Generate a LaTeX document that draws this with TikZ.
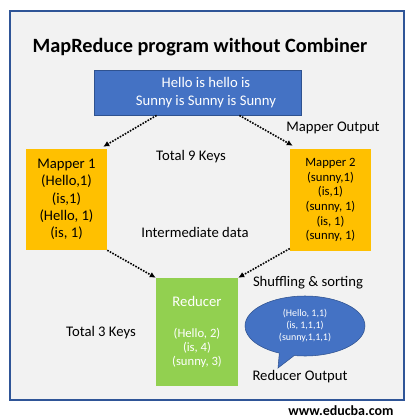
\documentclass[tikz,border=0pt]{standalone}
\usepackage{fontspec}
\setmainfont{Carlito}
\usetikzlibrary{shapes, shapes.callouts, arrows.meta, positioning, calc}
\definecolor{frameblue}{RGB}{47, 85, 151}
\definecolor{boxblue}{RGB}{68, 114, 196}
\definecolor{edgeblue}{RGB}{47, 82, 143}
\definecolor{mapgold}{RGB}{255, 192, 0}
\definecolor{redgreen}{RGB}{146, 208, 80}
\definecolor{panelgray}{RGB}{242, 242, 242}

\begin{document}
\begin{tikzpicture}[
  x=0.75pt, y=-0.75pt,
  inputbox/.style={draw=edgeblue, fill=boxblue, minimum width=155pt, minimum height=34pt, inner sep=0pt},
  mapbox/.style={fill=mapgold, minimum width=60.75pt, align=center, inner sep=0pt},
  redbox/.style={fill=redgreen, text=white, minimum width=61.5pt, minimum height=81pt, align=center, inner sep=0pt, font=\fontsize{9.5}{10.5}\selectfont},
  note/.style={font=\fontsize{11}{12}\selectfont, inner sep=0pt},
  flow/.style={densely dotted, line width=1.2pt, -{Latex[length=4.5pt, width=4.5pt]}}
]
  \useasboundingbox (0, 0) rectangle (415, 419);
  \draw[frameblue, fill=panelgray, line width=0.9pt] (10, 11) rectangle (404, 400);

  \node[font=\bfseries\fontsize{15.2}{17}\selectfont] (title) at (200, 47) {MapReduce program without Combiner};

  \node[inputbox] (input) at (198, 92.5) {};
  \node[text=white, align=center, inner sep=0pt, font=\fontsize{11}{13.5}\selectfont] (inputtext) at (206, 92.5) {Hello is hello is\\Sunny is Sunny is Sunny};

  \node[mapbox, minimum height=75.75pt, font=\fontsize{11}{13}\selectfont] (map1) at (66.5, 199.5) {Mapper 1\\(Hello,1)\\(is,1)\\(Hello, 1)\\(is, 1)};
  \node[mapbox, minimum height=76.5pt, font=\fontsize{9.5}{11}\selectfont] (map2) at (330.5, 200) {Mapper 2\\(sunny,1)\\(is,1)\\(sunny, 1)\\(is, 1)\\(sunny, 1)};

  \node[redbox] (reducer) at (197, 332) {\fontsize{11}{13}\selectfont Reducer\\[13pt](Hello, 2)\\(is, 4)\\(sunny, 3)};

  \node[ellipse callout, draw=edgeblue, fill=boxblue, text=white, minimum width=90pt, minimum height=45pt, inner sep=0pt, align=center,
        font=\fontsize{7.5}{9}\selectfont, callout absolute pointer={(278, 368)}] (shuffle) at (305, 326) {(Hello, 1,1)\\(is, 1,1,1)\\(sunny,1,1,1)};

  \node[note] (mapout) at (333, 128) {Mapper Output};
  \node[note] (keys9) at (191, 157) {Total 9 Keys};
  \node[note] (inter) at (195, 232) {Intermediate data};
  \node[note] (sorting) at (308, 283) {Shuffling \& sorting};
  \node[note] (keys3) at (101, 333) {Total 3 Keys};
  \node[note] (redout) at (300, 377) {Reducer Output};
  \node[font=\bfseries\fontsize{10.5}{12}\selectfont, inner sep=0pt] (site) at (341, 411) {www.educba.com};

  % dotted flow between stages
  \draw[flow] ($(input.south west)!0.3!(input.south east)$) -- ([shift={(-4,-2)}]map1.north east);
  \draw[flow] ($(input.south west)!0.7!(input.south east)$) -- ([shift={(3,-3)}]map2.north west);
  \draw[flow] (map1.south east) -- (reducer.north west);
  \draw[flow] ([yshift=2]map2.south west) -- (reducer.north east);
\end{tikzpicture}
\end{document}
